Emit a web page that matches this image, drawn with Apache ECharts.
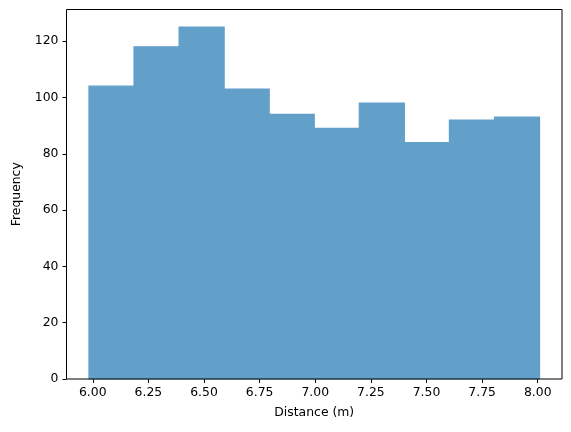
<!DOCTYPE html>
<html>
<head>
<meta charset="utf-8">
<script src="https://cdn.jsdelivr.net/npm/echarts@6/dist/echarts.min.js"></script>
<style>html,body{margin:0;padding:0;background:#fff}#c{width:571px;height:432px}</style>
</head>
<body>
<div id="c"></div>
<script>
// Histogram bin edges (Distance, m) and counts
var binEdges = [5.983, 6.1855, 6.388, 6.5905, 6.793, 6.9955, 7.198, 7.4005, 7.603, 7.8055, 8.008];
var counts = [104, 118, 125, 103, 94, 89, 98, 84, 92, 93];
var xTicks = [6.00, 6.25, 6.50, 6.75, 7.00, 7.25, 7.50, 7.75, 8.00];
var yTicks = [0, 20, 40, 60, 80, 100, 120];

var data = counts.map(function (c, i) { return [binEdges[i], binEdges[i + 1], c]; });
var font = 'DejaVu Sans';
var fs = 12.4;
var chart = echarts.init(document.getElementById('c'), null, {renderer: 'canvas'});
chart.setOption({
  animation: false,
  grid: {left: 66.5, right: 9, top: 9.5, bottom: 53, show: true, borderColor: '#000', borderWidth: 1, backgroundColor: 'transparent', z: 10},
  xAxis: {
    type: 'value', min: 5.882, max: 8.109,
    name: 'Distance (m)', nameLocation: 'middle', nameGap: 28,
    nameTextStyle: {fontFamily: font, fontSize: fs, color: '#000'},
    axisLine: {show: false},
    axisTick: {show: true, length: 4, customValues: xTicks, lineStyle: {color: '#000'}},
    axisLabel: {customValues: xTicks, margin: 8, fontFamily: font, fontSize: fs, color: '#000',
      formatter: function (v) { return v.toFixed(2); }},
    splitLine: {show: false}
  },
  yAxis: {
    type: 'value', min: 0, max: 131.25,
    name: 'Frequency', nameLocation: 'middle', nameGap: 44, nameRotate: 90,
    nameTextStyle: {fontFamily: font, fontSize: fs, color: '#000'},
    axisLine: {show: false},
    axisTick: {show: true, length: 4, customValues: yTicks, lineStyle: {color: '#000'}},
    axisLabel: {customValues: yTicks, margin: 8, fontFamily: font, fontSize: fs, color: '#000'},
    splitLine: {show: false}
  },
  series: [{
    type: 'custom',
    data: data,
    encode: {x: [0, 1], y: 2},
    renderItem: function (params, api) {
      var p0 = api.coord([api.value(0), api.value(2)]);
      var p1 = api.coord([api.value(1), 0]);
      return {
        type: 'rect',
        shape: {x: p0[0], y: p0[1], width: p1[0] - p0[0], height: p1[1] - p0[1]},
        style: {fill: '#62a0ca', stroke: '#62a0ca', lineWidth: 1.2}
      };
    }
  }]
});
</script>
</body>
</html>
